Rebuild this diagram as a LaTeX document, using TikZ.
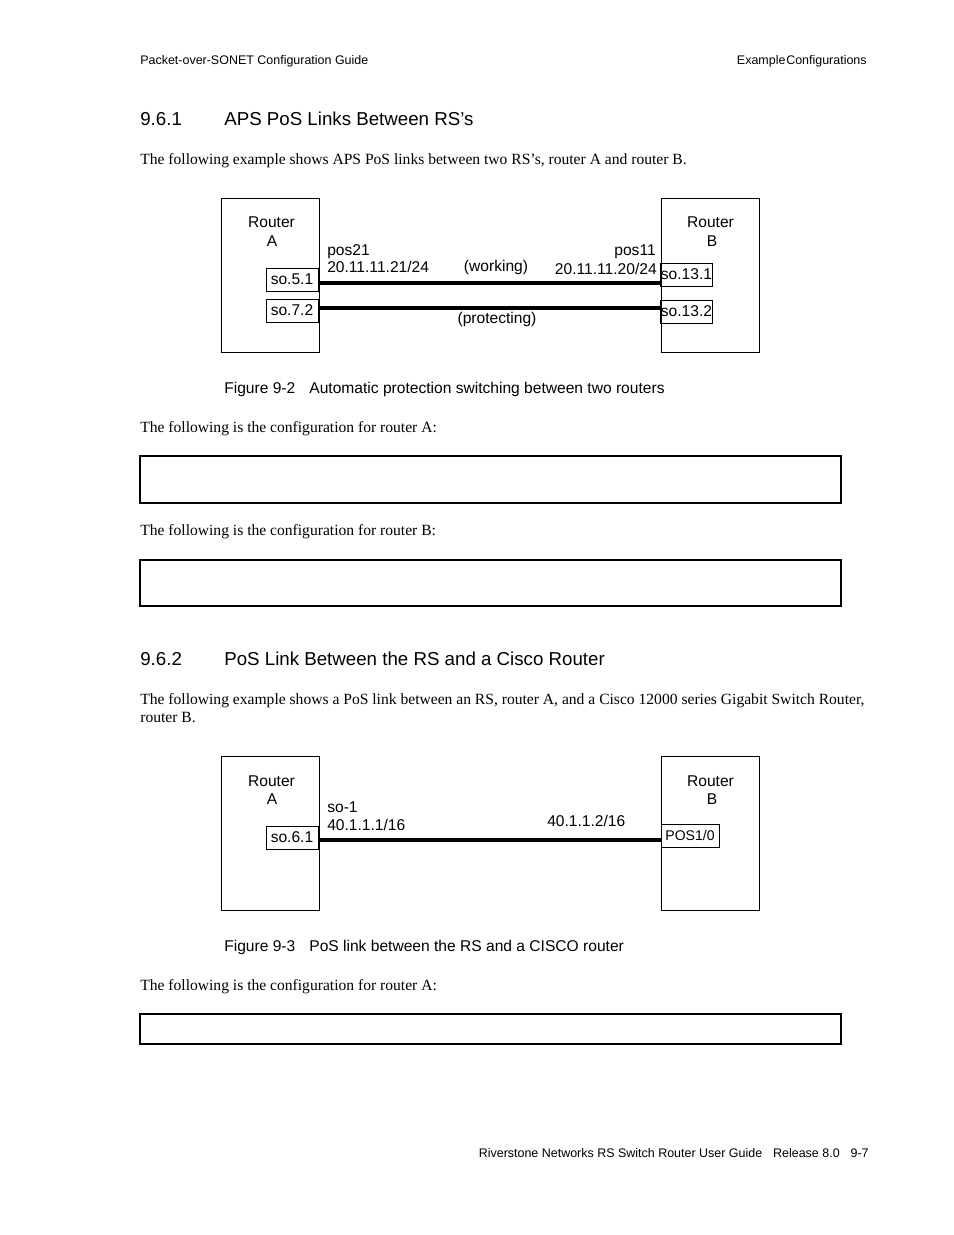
\documentclass[tikz,border=0pt]{standalone}
\usepackage{fontspec}
\setmainfont{Liberation Serif}
\setsansfont{Liberation Sans}

\begin{document}
\begin{tikzpicture}[x={(0.6415pt,0pt)},y={(0pt,-0.6415pt)},
        lbl/.style={inner sep=0pt,font=\sffamily\fontsize{10}{12}\selectfont},
        hdr/.style={inner sep=0pt,anchor=base west,font=\sffamily\fontsize{8}{10}\selectfont},
        sec/.style={inner sep=0pt,anchor=base west,font=\sffamily\fontsize{12}{14}\selectfont},
        body/.style={inner sep=0pt,anchor=base west,font=\rmfamily\fontsize{10}{12}\selectfont},
        router/.style={draw,line width=0.6pt,minimum width=62.9pt,minimum height=98.8pt,inner sep=0pt},
        port/.style={draw,line width=0.6pt,minimum width=33.4pt,minimum height=14.8pt,inner sep=0pt,
            font=\sffamily\fontsize{10}{12}\selectfont},
        link/.style={line width=2.6pt}]
        \useasboundingbox[fill=white] (0,0) rectangle (954,1235);

        % page header
        \node[hdr] (head1) at (140,64) {Packet-over-SONET Configuration Guide};
        \node[hdr,anchor=base east] (head2) at (867,64) {Example\kern0.5pt Configurations};

        % 9.6.1
        \node[sec] (num1) at (140,125) {9.6.1};
        \node[sec] (title1) at (224,125) {APS PoS Links Between RS's};
        \node[body] (par1) at (140,164) {The following example shows APS PoS links between two RS's, router A and router B.};

        \node[router] (ra1) at (270,275) {};
        \node[router] (rb1) at (710,275) {};
        \node[lbl,anchor=base] (ra1t) at (271.5,227) {Router};
        \node[lbl,anchor=base] (ra1u) at (272,246) {A};
        \node[lbl,anchor=base] (rb1t) at (710.5,227) {Router};
        \node[lbl,anchor=base] (rb1u) at (712,246) {B};

        \node[port] (pa1) at (292,279.5) {so.5.1};
        \node[port] (pa2) at (292,310.5) {so.7.2};
        \node[port,minimum width=32.7pt] (pb1) at (686.5,274.5) {so.13.1};
        \node[port,minimum width=32.7pt] (pb2) at (686.5,311.5) {so.13.2};

        \coordinate (wk) at (0,283);
        \coordinate (pr) at (0,308);
        \draw[link] (ra1.east |- wk) -- (rb1.west |- wk);
        \draw[link] (ra1.east |- pr) -- (rb1.west |- pr);

        \node[lbl,anchor=base west] (ifa1) at (327,255) {pos21};
        \node[lbl,anchor=base west] (ipa1) at (327,272) {20.11.11.21/24};
        \node[lbl,anchor=base east] (ifb1) at (656,255) {pos11};
        \node[lbl,anchor=base east] (ipb1) at (657,274) {20.11.11.20/24};
        \node[lbl,anchor=base] (work) at (496,271) {(working)};
        \node[lbl,anchor=base] (prot) at (497,323) {(protecting)};

        \node[lbl,anchor=base west] (fig2) at (224,393) {Figure 9-2\hspace{9pt}Automatic protection switching between two routers};

        \node[body] (par2) at (140,432) {The following is the configuration for router A:};
        \draw[line width=0.8pt] (140,456) rectangle (841,503);
        \node[body] (par3) at (140,535) {The following is the configuration for router B:};
        \draw[line width=0.8pt] (140,560) rectangle (841,606);

        % 9.6.2
        \node[sec] (num2) at (140,665) {9.6.2};
        \node[sec] (title2) at (224,665) {PoS Link Between the RS and a Cisco Router};
        \node[body] (par4) at (140,704) {The following example shows a PoS link between an RS, router A, and a Cisco 12000 series Gigabit Switch Router,};
        \node[body] (par5) at (140,722) {router B.};

        \node[router] (ra2) at (270,833) {};
        \node[router] (rb2) at (710,833) {};
        \node[lbl,anchor=base] (ra2t) at (271.5,786) {Router};
        \node[lbl,anchor=base] (ra2u) at (272,804) {A};
        \node[lbl,anchor=base] (rb2t) at (710.5,786) {Router};
        \node[lbl,anchor=base] (rb2u) at (712,804) {B};

        \node[port] (pa3) at (292,837.5) {so.6.1};
        \node[port,minimum width=37.2pt,font=\sffamily\fontsize{9}{11}\selectfont] (pb3) at (690,835.5) {POS1/0};

        \coordinate (ln) at (0,840);
        \draw[link] (ra2.east |- ln) -- (rb2.west |- ln);

        \node[lbl,anchor=base west] (ifa2) at (327,812) {so-1};
        \node[lbl,anchor=base west] (ipa2) at (327,830) {40.1.1.1/16};
        \node[lbl,anchor=base west] (ipb2) at (547,826) {40.1.1.2/16};

        \node[lbl,anchor=base west] (fig3) at (224,951) {Figure 9-3\hspace{9pt}PoS link between the RS and a CISCO router};

        \node[body] (par6) at (140,990) {The following is the configuration for router A:};
        \draw[line width=0.8pt] (140,1014) rectangle (841,1044);

        % page footer
        \node[hdr,anchor=base east] (foot) at (869,1157) {Riverstone Networks RS Switch Router User Guide\hspace{7pt}Release 8.0\hspace{7pt}9-7};
\end{tikzpicture}
\end{document}
